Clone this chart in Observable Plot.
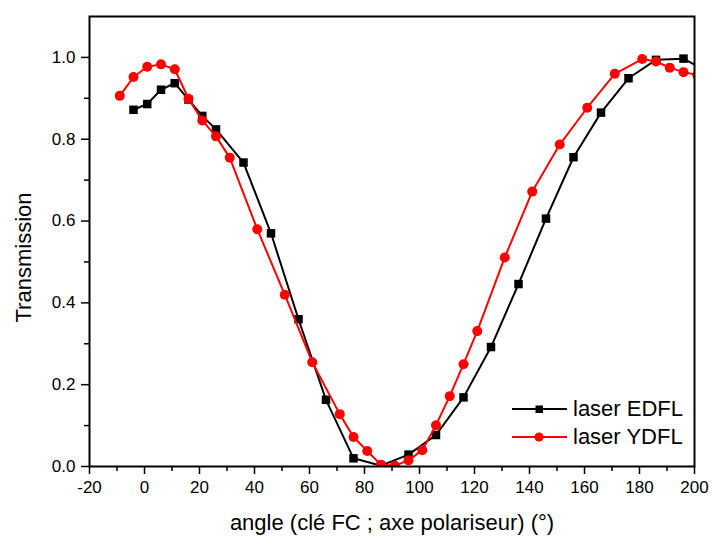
<!DOCTYPE html>
<html>
<head>
<meta charset="utf-8">
<script src="https://cdn.jsdelivr.net/npm/d3@7"></script>
<script src="https://cdn.jsdelivr.net/npm/@observablehq/plot@0.6"></script>
<style>
  html, body { margin: 0; padding: 0; background: #fff; }
  #wrap { position: relative; width: 712px; height: 536px; }
  #legend { position: absolute; left: 510px; top: 395px; font: 22px "Liberation Sans", Arial, sans-serif; color: #000; }
  #legend .row { height: 28px; display: flex; align-items: center; }
  #legend svg { display: block; margin-right: 5px; }
</style>
</head>
<body>
<div id="wrap"></div>
<script>
// ---- data ----
const angleEDFL = [-4, 1, 6, 11, 16, 21, 26, 36, 46, 56, 66, 76, 86, 96, 106, 116, 126, 136, 146, 156, 166, 176, 186, 196, 206];
const transEDFL = [0.872, 0.886, 0.921, 0.937, 0.897, 0.857, 0.824, 0.743, 0.570, 0.360, 0.163, 0.020, 0.002, 0.029, 0.077, 0.169, 0.292, 0.446, 0.606, 0.756, 0.865, 0.949, 0.994, 0.997, 0.960];

const angleYDFL = [-9, -4, 1, 6, 11, 16, 21, 26, 31, 41, 51, 61, 71, 76, 81, 86, 91, 96, 101, 106, 111, 116, 121, 131, 141, 151, 161, 171, 181, 186, 191, 196, 201];
const transYDFL = [0.906, 0.952, 0.977, 0.983, 0.971, 0.899, 0.846, 0.807, 0.755, 0.580, 0.420, 0.255, 0.128, 0.072, 0.038, 0.004, 0.002, 0.015, 0.040, 0.101, 0.172, 0.250, 0.331, 0.511, 0.672, 0.787, 0.877, 0.960, 0.996, 0.990, 0.975, 0.964, 0.957];

const seriesNames = ["laser EDFL", "laser YDFL"];
const seriesColors = ["#000000", "#ff0000"];

const xTicks = [-20, 0, 20, 40, 60, 80, 100, 120, 140, 160, 180, 200];
const xMinor = [-10, 10, 30, 50, 70, 90, 110, 130, 150, 170, 190];
const yTicks = [0, 0.2, 0.4, 0.6, 0.8, 1.0];
const yMinor = [0.1, 0.3, 0.5, 0.7, 0.9];

const xTitle = "angle (clé FC ; axe polariseur) (°)";
const yTitle = "Transmission";

// ---- build tables ----
const edfl = angleEDFL.map((a, i) => ({angle: a, t: transEDFL[i]}));
const ydfl = angleYDFL.map((a, i) => ({angle: a, t: transYDFL[i]}));

const font = "'Liberation Sans', Arial, sans-serif";

const chart = Plot.plot({
  width: 712,
  height: 536,
  marginLeft: 89,
  marginRight: 18,
  marginTop: 16,
  marginBottom: 70,
  style: {fontFamily: font, fontSize: "17px", color: "#000", background: "#fff"},
  x: {domain: [-20, 200], label: null},
  y: {domain: [0, 1.1], label: null},
  marks: [
    Plot.line(edfl, {x: "angle", y: "t", stroke: seriesColors[0], strokeWidth: 2, clip: true}),
    Plot.dot(edfl, {x: "angle", y: "t", symbol: "square", r: 4.8, fill: seriesColors[0], stroke: "none", clip: true}),
    Plot.line(ydfl, {x: "angle", y: "t", stroke: seriesColors[1], strokeWidth: 2, clip: true}),
    Plot.dot(ydfl, {x: "angle", y: "t", symbol: "circle", r: 5, fill: seriesColors[1], stroke: "none", clip: true}),
    Plot.axisX({ticks: xTicks, tickSize: 8, tickPadding: 6, strokeWidth: 1.5, tickFormat: d => String(d), fontSize: 17, label: null}),
    Plot.axisX({ticks: xMinor, tickSize: 5, strokeWidth: 1.5, tickFormat: () => "", label: null}),
    Plot.axisY({ticks: yTicks, tickSize: 8, tickPadding: 6, strokeWidth: 1.5, tickFormat: d3.format(".1f"), fontSize: 17, label: null}),
    Plot.axisY({ticks: yMinor, tickSize: 5, strokeWidth: 1.5, tickFormat: () => "", label: null}),
    Plot.frame({stroke: "#000", strokeWidth: 2}),
    Plot.text([xTitle], {text: d => d, frameAnchor: "bottom", textAnchor: "middle", lineAnchor: "middle", dy: 56, fontSize: 22, fill: "#000"}),
    Plot.text([yTitle], {text: d => d, frameAnchor: "left", textAnchor: "middle", lineAnchor: "middle", rotate: -90, dx: -66, dy: 16, fontSize: 22, fill: "#000"})
  ]
});

const wrap = document.getElementById("wrap");
wrap.appendChild(chart);

// ---- legend (HTML overlay) ----
const legend = document.createElement("div");
legend.id = "legend";
const symbols = ["square", "circle"];
seriesNames.forEach((name, i) => {
  const row = document.createElement("div");
  row.className = "row";
  const ns = "http://www.w3.org/2000/svg";
  const sw = document.createElementNS(ns, "svg");
  sw.setAttribute("width", 58);
  sw.setAttribute("height", 14);
  const ln = document.createElementNS(ns, "line");
  ln.setAttribute("x1", 2); ln.setAttribute("x2", 57);
  ln.setAttribute("y1", 7); ln.setAttribute("y2", 7);
  ln.setAttribute("stroke", seriesColors[i]); ln.setAttribute("stroke-width", 2);
  sw.appendChild(ln);
  let m;
  if (symbols[i] === "square") {
    m = document.createElementNS(ns, "rect");
    m.setAttribute("x", 25.5); m.setAttribute("y", 3.5);
    m.setAttribute("width", 7.5); m.setAttribute("height", 7.5);
  } else {
    m = document.createElementNS(ns, "circle");
    m.setAttribute("cx", 29); m.setAttribute("cy", 7); m.setAttribute("r", 4.6);
  }
  m.setAttribute("fill", seriesColors[i]);
  sw.appendChild(m);
  row.appendChild(sw);
  const span = document.createElement("span");
  span.textContent = name;
  row.appendChild(span);
  legend.appendChild(row);
});
wrap.appendChild(legend);
</script>
</body>
</html>
